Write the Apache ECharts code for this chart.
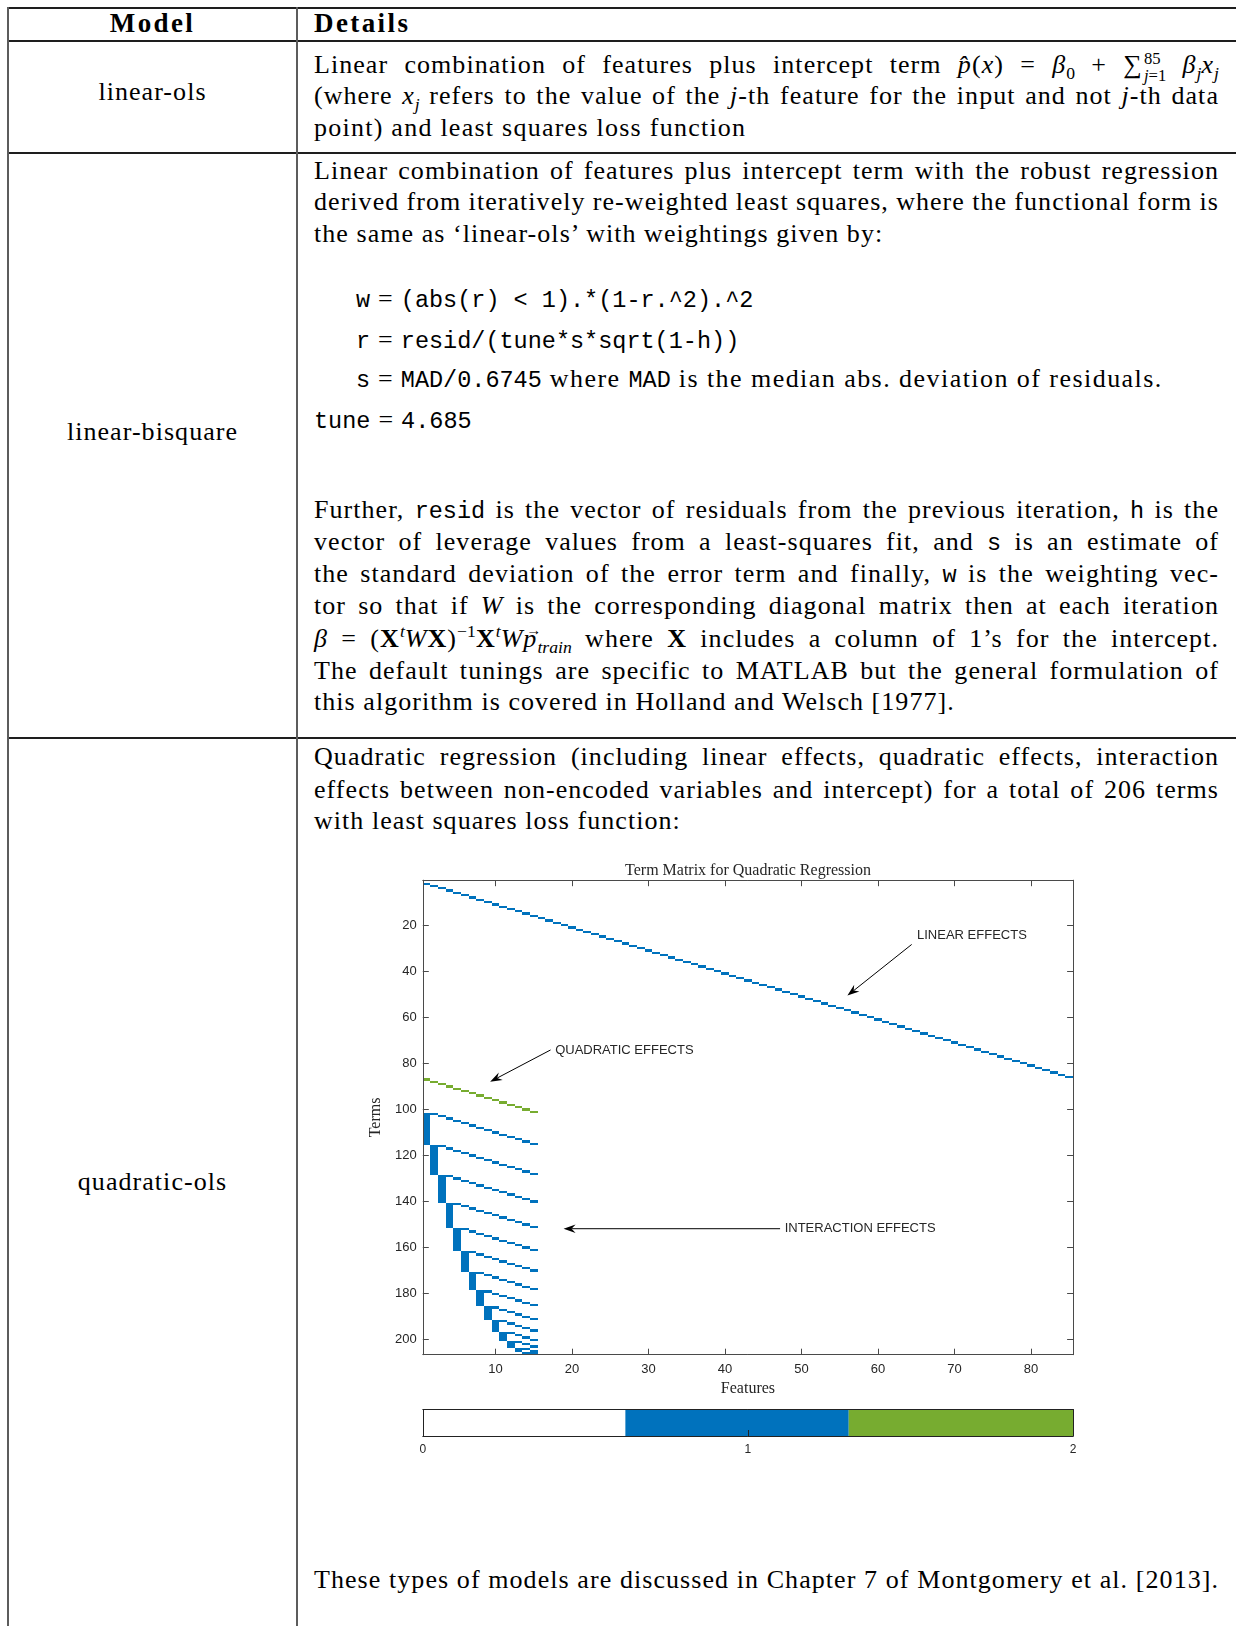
<!DOCTYPE html>
<html>
<head>
<meta charset="utf-8">
<script src="https://cdn.jsdelivr.net/npm/echarts@6/dist/echarts.min.js"></script>
<style>
  html, body { margin: 0; padding: 0; background: #fff; }
  #page { position: relative; width: 1236px; height: 1626px; overflow: hidden; background: #fff;
          font-family: "Liberation Serif", "DejaVu Serif", serif; font-size: 26px; letter-spacing: 1.05px; color: #000; }
  .hl { position: absolute; left: 7px; right: 0; height: 2px; background: #1e1e1e; }
  .vl { position: absolute; top: 7px; bottom: 0; width: 2px; background: #5c5c5c; }
  .ln { position: absolute; left: 314px; width: 905px; height: 32px; line-height: 32px; white-space: nowrap; }
  .j  { text-align: justify; text-align-last: justify; word-spacing: -3px; }
  .lab { position: absolute; left: 9px; width: 287px; text-align: center; height: 32px; line-height: 32px; white-space: nowrap; }
  .hd { font-weight: bold; font-size: 27px; letter-spacing: 2.4px; }
  .code { left: 356px; }
  tt { font-family: "Liberation Mono", "DejaVu Sans Mono", monospace; font-size: 23.5px; letter-spacing: 0; white-space: pre; }
  .eq { margin: 0 8px; letter-spacing: 0; }
  sup, sub { font-size: 0.68em; line-height: 0; letter-spacing: 0; }
  .lim { display: inline-block; vertical-align: middle; font-size: 0.64em; line-height: 1.05; letter-spacing: 0; margin-left: 1px; text-align: left; }
  .lim > span { display: block; }
  .vec { position: relative; display: inline-block; }
  .vec .arr { position: absolute; left: 3px; top: 0px; font-size: 15px; line-height: 15px; font-style: normal; letter-spacing: 0; }
  #termChart { position: absolute; left: 347.5px; top: 850px; width: 800px; height: 620px; letter-spacing: 0; }
</style>
</head>
<body>
<div id="page">
  <!-- table rules -->
  <div class="hl" style="top:7px"></div>
  <div class="hl" style="top:40px"></div>
  <div class="hl" style="top:152px"></div>
  <div class="hl" style="top:737px"></div>
  <div class="vl" style="left:7px"></div>
  <div class="vl" style="left:296px"></div>

  <!-- header -->
  <div class="lab hd" style="top:7px">Model</div>
  <div class="ln hd" style="top:7px">Details</div>

  <!-- linear-ols -->
  <div class="lab" style="top:76px">linear-ols</div>
  <div class="ln j" style="top:49px">Linear combination of features plus intercept term <i>p̂</i>(<i>x</i>) = <i>β</i><sub>0</sub> + ∑<span class="lim"><span>85</span><span><i>j</i>=1</span></span> <i>β<sub>j</sub>x<sub>j</sub></i></div>
  <div class="ln j" style="top:80.2px">(where <i>x<sub>j</sub></i> refers to the value of the <i>j</i>-th feature for the input and not <i>j</i>-th data</div>
  <div class="ln" style="top:112.3px;letter-spacing:1.25px">point) and least squares loss function</div>

  <!-- linear-bisquare -->
  <div class="lab" style="top:416px">linear-bisquare</div>
  <div class="ln j" style="top:154.8px">Linear combination of features plus intercept term with the robust regression</div>
  <div class="ln j" style="top:185.9px">derived from iteratively re-weighted least squares, where the functional form is</div>
  <div class="ln" style="top:218.1px">the same as ‘linear-ols’ with weightings given by:</div>
  <div class="ln code" style="top:283.4px"><tt>w</tt><span class="eq">=</span><tt>(abs(r) &lt; 1).*(1-r.^2).^2</tt></div>
  <div class="ln code" style="top:323.8px"><tt>r</tt><span class="eq">=</span><tt>resid/(tune*s*sqrt(1-h))</tt></div>
  <div class="ln code" style="top:363.2px;letter-spacing:1.45px"><tt>s</tt><span class="eq">=</span><tt>MAD/0.6745</tt> where <tt>MAD</tt> is the median abs. deviation of residuals.</div>
  <div class="ln" style="top:403.7px"><tt>tune</tt><span class="eq">=</span><tt>4.685</tt></div>
  <div class="ln j" style="top:493.9px">Further, <tt>resid</tt> is the vector of residuals from the previous iteration, <tt>h</tt> is the</div>
  <div class="ln j" style="top:526px">vector of leverage values from a least-squares fit, and <tt>s</tt> is an estimate of</div>
  <div class="ln j" style="top:558.2px">the standard deviation of the error term and finally, <tt>w</tt> is the weighting vec-</div>
  <div class="ln j" style="top:590.3px">tor so that if <i>W</i> is the corresponding diagonal matrix then at each iteration</div>
  <div class="ln j" style="top:622.5px"><i>β</i> = (<b>X</b><sup><i>t</i></sup><i>W</i><b>X</b>)<sup>−1</sup><b>X</b><sup><i>t</i></sup><i>W</i><span class="vec"><i>p</i><span class="arr">→</span></span><sub><i>train</i></sub> where <b>X</b> includes a column of 1’s for the intercept.</div>
  <div class="ln j" style="top:654.6px">The default tunings are specific to MATLAB but the general formulation of</div>
  <div class="ln" style="top:685.7px">this algorithm is covered in Holland and Welsch [1977].</div>

  <!-- quadratic-ols -->
  <div class="lab" style="top:1165.7px">quadratic-ols</div>
  <div class="ln j" style="top:741.1px">Quadratic regression (including linear effects, quadratic effects, interaction</div>
  <div class="ln j" style="top:773.6px">effects between non-encoded variables and intercept) for a total of 206 terms</div>
  <div class="ln" style="top:805.1px">with least squares loss function:</div>
  <div class="ln j" style="top:1564px">These types of models are discussed in Chapter 7 of Montgomery et al. [2013].</div>

  <div id="termChart"></div>
</div>

<script>
// ---- model description: 85 features, of which the first 15 are non-encoded (continuous) ----
const featureCount = 85;
const continuousFeatures = [1, 2, 3, 4, 5, 6, 7, 8, 9, 10, 11, 12, 13, 14, 15];

// ---- axis ticks ----
const xTickValues = [10, 20, 30, 40, 50, 60, 70, 80];
const yTickValues = [20, 40, 60, 80, 100, 120, 140, 160, 180, 200];
const colorbarTickValues = [0, 1, 2];

// ---- colour scale: term-matrix entry (0, 1, 2) -> colour, and the colour bar bands ----
const levelColors = ['#ffffff', '#0072bd', '#77ac30'];
const colorbarEdges = [0, 0.623, 1.31, 2];

// ---- annotations (in feature / term units) ----
const annotationLabels = ['LINEAR EFFECTS', 'QUADRATIC EFFECTS', 'INTERACTION EFFECTS'];
const annotationTails = [[64.4, 28.4], [17.2, 74.2], [47.2, 151.8]];
const annotationHeads = [[56.0, 50.6], [9.3, 88.0], [18.9, 151.8]];
const annotationTextAt = [[65.1, 24.4], [17.8, 74.2], [47.8, 151.8]];

// ---- build the quadratic term matrix: intercept, linear, squared, pairwise interactions ----
const featureIds = [];
for (let f = 1; f <= featureCount; f++) featureIds.push(f);
const modelTerms = [[]];                                        // intercept (no features)
featureIds.forEach(f => modelTerms.push([[f, 1]]));             // linear effects
continuousFeatures.forEach(f => modelTerms.push([[f, 2]]));     // quadratic effects
continuousFeatures.forEach((a, i) => {                          // interaction effects
  continuousFeatures.slice(i + 1).forEach(b => modelTerms.push([[a, 1], [b, 1]]));
});
const termCount = modelTerms.length;  // 206
const termCells = [];
modelTerms.forEach((term, r) => term.forEach(([f, p]) => termCells.push([f, r + 1, p])));

const colorbarBands = [];
for (let k = 0; k < levelColors.length; k++) colorbarBands.push([colorbarEdges[k], colorbarEdges[k + 1], k]);

const annotationData = annotationLabels.map((_, i) => [
  annotationTails[i][0], annotationTails[i][1], annotationHeads[i][0], annotationHeads[i][1],
  annotationTextAt[i][0], annotationTextAt[i][1], i
]);

const AX = '#4a4a4a';
const SANS = '"Liberation Sans", Arial, Helvetica, sans-serif';
const SERIF = '"Liberation Serif", "DejaVu Serif", serif';

function frameAxis(extra) {
  return Object.assign({
    type: 'value', z: 10,
    axisLine: { show: true, onZero: false, lineStyle: { color: AX, width: 1 } },
    splitLine: { show: false },
    axisTick: { show: false },
    axisLabel: { show: false }
  }, extra);
}

const chart = echarts.init(document.getElementById('termChart'), null, { renderer: 'canvas' });
chart.setOption({
  animation: false,
  title: {
    text: 'Term Matrix for Quadratic Regression',
    left: 'center', top: 8,
    textStyle: { fontFamily: SERIF, fontWeight: 'normal', fontSize: 16, color: '#262626' }
  },
  grid: [
    { left: 74.8, top: 30.2, width: 650.3, height: 474.5 },
    { left: 74.8, top: 559.5, width: 650.3, height: 26.5 }
  ],
  xAxis: [
    frameAxis({
      gridIndex: 0, position: 'bottom', min: 0.5, max: featureCount + 0.5,
      axisTick: { show: true, inside: true, length: 6, customValues: xTickValues, lineStyle: { color: AX } },
      axisLabel: { show: true, customValues: xTickValues, margin: 8, fontFamily: SANS, fontSize: 13, color: '#262626' },
      name: 'Features', nameLocation: 'middle', nameGap: 24,
      nameTextStyle: { fontFamily: SERIF, fontSize: 16, color: '#262626' }
    }),
    frameAxis({
      gridIndex: 0, position: 'top', min: 0.5, max: featureCount + 0.5,
      axisTick: { show: true, inside: true, length: 6, customValues: xTickValues, lineStyle: { color: AX } }
    }),
    frameAxis({
      gridIndex: 1, position: 'bottom', min: 0, max: 2,
      axisTick: { show: true, inside: true, length: 6, customValues: colorbarTickValues, lineStyle: { color: '#222' } },
      axisLabel: { show: true, customValues: colorbarTickValues, margin: 8, fontFamily: SANS, fontSize: 12, color: '#262626' },
      axisLine: { show: true, onZero: false, lineStyle: { color: '#222', width: 1 } }
    }),
    frameAxis({
      gridIndex: 1, position: 'top', min: 0, max: 2,
      axisLine: { show: true, onZero: false, lineStyle: { color: '#222', width: 1 } }
    })
  ],
  yAxis: [
    frameAxis({
      gridIndex: 0, position: 'left', min: 0.5, max: termCount + 0.5, inverse: true,
      axisTick: { show: true, inside: true, length: 6, customValues: yTickValues, lineStyle: { color: AX } },
      axisLabel: { show: true, customValues: yTickValues, margin: 6, fontFamily: SANS, fontSize: 13, color: '#262626' },
      name: 'Terms', nameLocation: 'middle', nameGap: 33, nameRotate: 90,
      nameTextStyle: { fontFamily: SERIF, fontSize: 16, color: '#262626' }
    }),
    frameAxis({
      gridIndex: 0, position: 'right', min: 0.5, max: termCount + 0.5, inverse: true,
      axisTick: { show: true, inside: true, length: 6, customValues: yTickValues, lineStyle: { color: AX } }
    }),
    frameAxis({
      gridIndex: 1, position: 'left', min: 0, max: 1,
      axisLine: { show: true, onZero: false, lineStyle: { color: '#222', width: 1 } }
    }),
    frameAxis({
      gridIndex: 1, position: 'right', min: 0, max: 1,
      axisLine: { show: true, onZero: false, lineStyle: { color: '#222', width: 1 } }
    })
  ],
  series: [
    {
      name: 'term matrix', type: 'custom', xAxisIndex: 0, yAxisIndex: 0,
      data: termCells, encode: { x: 0, y: 1 }, clip: true,
      renderItem: function (params, api) {
        const f = api.value(0), r = api.value(1), v = api.value(2);
        const a = api.coord([f - 0.5, r - 0.5]);
        const b = api.coord([f + 0.5, r + 0.5]);
        const x0 = Math.round(Math.min(a[0], b[0])), x1 = Math.round(Math.max(a[0], b[0]));
        const y0 = Math.round(Math.min(a[1], b[1])), y1 = Math.round(Math.max(a[1], b[1]));
        return { type: 'rect', shape: { x: x0, y: y0, width: x1 - x0, height: y1 - y0 },
                 style: { fill: levelColors[v] } };
      }
    },
    {
      name: 'annotations', type: 'custom', xAxisIndex: 0, yAxisIndex: 0,
      data: annotationData, encode: { x: [0, 2], y: [1, 3] }, z: 5,
      renderItem: function (params, api) {
        const t = api.coord([api.value(0), api.value(1)]);
        const h = api.coord([api.value(2), api.value(3)]);
        const p = api.coord([api.value(4), api.value(5)]);
        const label = annotationLabels[api.value(6)];
        const dx = h[0] - t[0], dy = h[1] - t[1];
        const len = Math.sqrt(dx * dx + dy * dy);
        const ux = dx / len, uy = dy / len, nx = -uy, ny = ux;
        const L = 12, W = 4.2, notch = 8;
        const b1 = [h[0] - ux * L + nx * W, h[1] - uy * L + ny * W];
        const b2 = [h[0] - ux * L - nx * W, h[1] - uy * L - ny * W];
        const bn = [h[0] - ux * notch, h[1] - uy * notch];
        return {
          type: 'group',
          children: [
            { type: 'line', shape: { x1: t[0], y1: t[1], x2: bn[0], y2: bn[1] },
              style: { stroke: '#000', lineWidth: 1 } },
            { type: 'polygon', shape: { points: [h, b1, bn, b2] }, style: { fill: '#000' } },
            { type: 'text', x: p[0], y: p[1],
              style: { text: label, fill: '#262626', font: '13px ' + SANS, textAlign: 'left', textVerticalAlign: 'middle' } }
          ]
        };
      }
    },
    {
      name: 'colorbar', type: 'custom', xAxisIndex: 2, yAxisIndex: 2,
      data: colorbarBands, encode: { x: [0, 1] },
      renderItem: function (params, api) {
        const a = api.coord([api.value(0), 0]);
        const b = api.coord([api.value(1), 1]);
        return { type: 'rect',
                 shape: { x: a[0], y: Math.min(a[1], b[1]), width: b[0] - a[0], height: Math.abs(a[1] - b[1]) },
                 style: { fill: levelColors[api.value(2)] } };
      }
    }
  ]
});
</script>
</body>
</html>
